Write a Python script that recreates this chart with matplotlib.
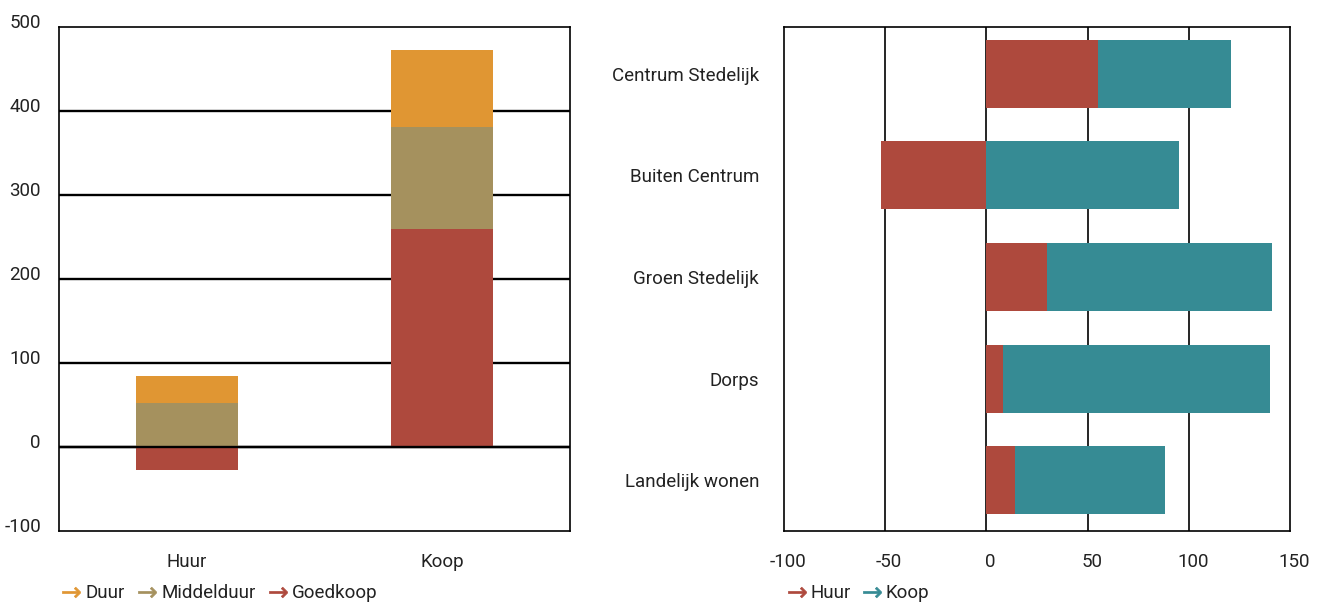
import matplotlib
matplotlib.use("Agg")
import matplotlib.pyplot as plt
import matplotlib.transforms as mtransforms
from matplotlib.lines import Line2D
import numpy as np

# Left panel: stacked by price segment, per tenure
TENURE = ["Huur", "Koop"]
GOEDKOOP = [-27, 259]
MIDDELDUUR = [52, 122]
DUUR = [32, 92]

# Right panel: per living environment
MILIEU = ["Centrum Stedelijk", "Buiten Centrum", "Groen Stedelijk", "Dorps", "Landelijk wonen"]
HUUR = [55, -52, 30, 8, 14]
KOOP = [66, 95, 111, 132, 74]

C_DUUR = "#E09633"
C_MIDDEL = "#A5915E"
C_GOED = "#AE493D"
C_KOOP = "#368B94"
TEXT = "#222222"
FS = 13.5

plt.rcParams["font.family"] = ["Roboto", "DejaVu Sans"]
plt.rcParams["font.size"] = FS
plt.rcParams["axes.unicode_minus"] = False

fig = plt.figure(figsize=(13.17, 6.03), dpi=100)
ax1 = fig.add_axes([0.0448, 0.1194, 0.388, 0.8358])
ax2 = fig.add_axes([0.5953, 0.1194, 0.3842, 0.8358])

# --- left: stacked columns; negatives hang below zero
x = np.arange(len(TENURE))
w = 0.40
goed = np.array(GOEDKOOP, dtype=float)
mid = np.array(MIDDELDUUR, dtype=float)
duur = np.array(DUUR, dtype=float)
pos_base = np.where(goed > 0, goed, 0)
ax1.bar(x, goed, w, color=C_GOED, zorder=2)
ax1.bar(x, mid, w, bottom=pos_base, color=C_MIDDEL, zorder=2)
ax1.bar(x, duur, w, bottom=pos_base + mid, color=C_DUUR, zorder=2)

ax1.set_xlim(-0.5, 1.5)
ax1.set_ylim(-100, 500)
ax1.set_yticks(np.arange(-100, 501, 100))
for v in range(0, 500, 100):
    ax1.axhline(v, color="black", linewidth=1.7, zorder=1)
ax1.axhline(0, color="black", linewidth=1.7, zorder=3)
ax1.set_xticks(x)
ax1.set_xticklabels(TENURE)
ax1.tick_params(axis="y", length=0, pad=13, labelcolor=TEXT, labelsize=FS)
ax1.tick_params(axis="x", length=0, pad=16, labelcolor=TEXT, labelsize=FS)
# value labels sit a little above their gridline
lift = mtransforms.ScaledTranslation(0, 6 / 100, fig.dpi_scale_trans)
for lab in ax1.get_yticklabels():
    lab.set_transform(lab.get_transform() + lift)

# --- right: horizontal stacked bars
y = np.arange(len(MILIEU))
h = 0.67
huur = np.array(HUUR, dtype=float)
koop = np.array(KOOP, dtype=float)
ax2.barh(y, huur, h, color=C_GOED, zorder=2)
ax2.barh(y, koop, h, left=np.where(huur > 0, huur, 0), color=C_KOOP, zorder=2)
ax2.set_xlim(-100, 150)
ax2.set_ylim(4.5, -0.46)
ax2.set_xticks(np.arange(-100, 151, 50))
for v in (-50, 0, 50, 100):
    ax2.axvline(v, color="black", linewidth=1.2, zorder=1)
ax2.set_yticks(y)
ax2.set_yticklabels(MILIEU)
ax2.tick_params(axis="y", length=0, pad=18, labelcolor=TEXT, labelsize=FS)
ax2.tick_params(axis="x", length=0, pad=16, labelcolor=TEXT, labelsize=FS)
nudge = mtransforms.ScaledTranslation(4 / 100, 0, fig.dpi_scale_trans)
for lab in ax2.get_xticklabels():
    lab.set_transform(lab.get_transform() + nudge)

for ax in (ax1, ax2):
    for s in ax.spines.values():
        s.set_color("black")
        s.set_linewidth(1.2)


def arrow_handle(color):
    return Line2D([], [], linestyle="none", marker=r"$\rightarrow$",
                  markersize=13, color=color, markeredgewidth=0.5)


fig.legend([arrow_handle(C_DUUR), arrow_handle(C_MIDDEL), arrow_handle(C_GOED)],
           ["Duur", "Middelduur", "Goedkoop"], loc="center left",
           bbox_to_anchor=(0.034, 0.016), ncol=3, frameon=False,
           handlelength=1.0, handletextpad=0.25, columnspacing=0.7,
           fontsize=FS, labelcolor=TEXT)
fig.legend([arrow_handle(C_GOED), arrow_handle(C_KOOP)],
           ["Huur", "Koop"], loc="center left",
           bbox_to_anchor=(0.585, 0.016), ncol=2, frameon=False,
           handlelength=1.0, handletextpad=0.25, columnspacing=0.6,
           fontsize=FS, labelcolor=TEXT)

fig.savefig("out.png", dpi=100)
